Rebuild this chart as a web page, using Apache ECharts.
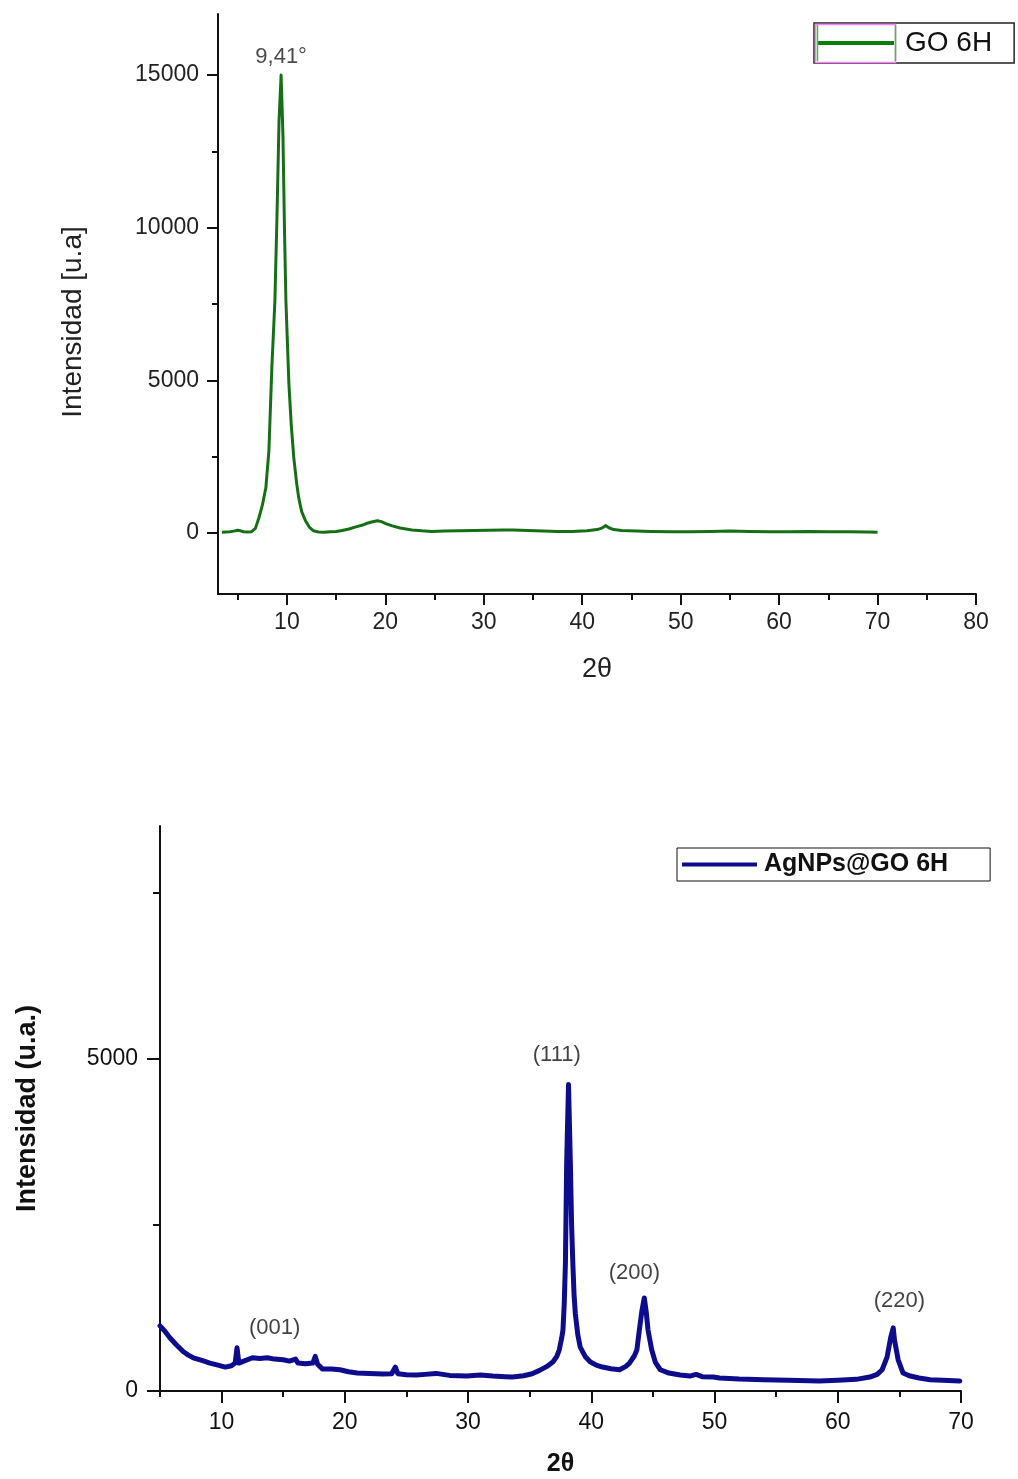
<!DOCTYPE html>
<html>
<head>
<meta charset="utf-8">
<script src="https://cdn.jsdelivr.net/npm/echarts@6/dist/echarts.min.js"></script>
<style>
html,body{margin:0;padding:0;background:#fff;}
#chart{width:1018px;height:1479px;}
</style>
</head>
<body>
<div id="chart"></div>
<script>
// ---------- GO 6H (top) ----------
const goTheta = [3.4,3.8,4.2,4.6,5.0,5.3,5.6,6.0,6.4,6.8,7.15,7.5,7.86,8.17,8.47,8.78,9.0,9.2,9.41,9.6,9.75,9.9,10.2,10.45,10.7,11.0,11.2,11.5,11.9,12.3,12.7,13.2,13.8,14.4,15.0,15.6,16.3,17.0,17.6,18.0,18.6,19.2,19.6,20.1,20.7,21.5,22.7,23.7,24.7,26,27.5,29,30.5,32,33,34.5,36,37.5,39,40.5,41.5,42.0,42.4,42.7,43.2,44,45.5,47,49,51,53,55,57,59,61,63,65,67,69,70];
const goIntensity = [20,30,40,60,90,70,40,30,40,150,490,900,1480,2690,5420,7600,10500,13500,15000,13000,10000,7600,4890,3500,2460,1600,1150,700,390,180,70,30,20,40,50,80,130,200,250,300,360,400,370,300,230,160,100,70,50,60,70,80,90,100,100,80,60,50,50,70,110,160,240,170,110,80,60,50,40,40,50,60,50,40,40,50,40,40,30,20];
const goXLabels = [10,20,30,40,50,60,70,80];
const goXMinor = [5,15,25,35,45,55,65,75];
const goYLabels = [0,5000,10000,15000];
const goYMinor = [2500,7500,12500];
const goPeakLabel = {text:'9,41°', x:9.41, y:15600};

// ---------- AgNPs@GO 6H (bottom) ----------
const agTheta = [5.0,5.4,5.8,6.3,6.9,7.3,7.7,8.4,9.05,9.7,10.3,10.8,11.1,11.25,11.4,11.8,12.5,13.1,13.7,14.3,15.0,15.5,16.0,16.2,16.8,17.4,17.6,17.8,18.2,18.9,19.6,20.3,21.0,22.0,23.1,23.8,24.1,24.3,25.0,25.8,26.5,27.4,28.5,29.9,31.0,32.0,33.0,33.6,34.5,35.2,35.8,36.4,36.9,37.2,37.4,37.6,37.7,37.8,37.9,38.0,38.15,38.3,38.4,38.5,38.6,38.7,38.9,39.1,39.5,39.9,40.4,40.9,41.6,42.3,42.8,43.1,43.5,43.7,43.9,44.1,44.3,44.45,44.6,44.9,45.2,45.6,46.3,47.2,48.0,48.5,49.0,49.9,50.4,52,54,56,58.5,60,61.5,62.6,63.2,63.6,64.0,64.3,64.5,64.6,64.9,65.3,65.8,66.6,67.5,68.5,69.9];
const agIntensity = [980,900,800,700,590,540,500,460,420,390,360,380,420,650,420,450,500,490,500,480,470,450,480,420,410,420,520,400,330,330,320,290,270,265,255,260,360,260,245,240,250,265,235,225,240,225,215,210,230,260,310,370,440,520,620,800,920,1300,1930,3430,4610,3430,2500,1930,1450,1170,850,660,520,440,390,360,335,320,370,420,530,620,920,1200,1400,1200,920,620,430,320,270,240,225,250,215,210,195,180,170,160,150,160,175,210,250,320,510,810,950,770,470,270,230,195,170,160,150];
const agXLabels = [10,20,30,40,50,60,70];
const agXMinor = [5,15,25,35,45,55,65];
const agYLabels = [0,5000];
const agYMinor = [2500,7500];
const agPeakText = ['(001)','(111)','(200)','(220)'];
const agPeakX = [14.3,37.2,43.5,65.0];
const agPeakY = [950,5060,1780,1350];

const FONT = "'Liberation Sans', Arial, Helvetica, sans-serif";
const pair = (xs, ys) => xs.map((x, i) => [x, ys[i]]);
const plain = v => String(v);

const chart = echarts.init(document.getElementById('chart'), null, {renderer:'canvas'});

function mainAxisX(o){
  return {
    type:'value', gridIndex:o.grid, min:o.min, max:o.max, position:'bottom',
    axisLine:{show:true, onZero:false, lineStyle:{color:'#111', width:2}},
    axisTick:{show:true, inside:false, length:o.tickLen, lineStyle:{color:'#111', width:2}, customValues:o.labels},
    axisLabel:{show:true, customValues:o.labels, formatter:plain, color:o.color, fontSize:o.fontSize, fontFamily:FONT, margin:o.margin},
    splitLine:{show:false},
    name:o.name, nameLocation:'middle', nameGap:o.nameGap,
    nameTextStyle:{fontSize:o.nameFont, fontFamily:FONT, color:o.color, fontWeight:o.bold ? 'bold' : 'normal'}
  };
}
function minorAxisX(grid, min, max, ticks, tickLen){
  return {
    type:'value', gridIndex:grid, min:min, max:max, position:'bottom', offset:0,
    axisLine:{show:false, onZero:false},
    axisTick:{show:true, length:tickLen, lineStyle:{color:'#111', width:2}, customValues:ticks},
    axisLabel:{show:false}, splitLine:{show:false}
  };
}
function mainAxisY(o){
  return {
    type:'value', gridIndex:o.grid, min:o.min, max:o.max, position:'left',
    axisLine:{show:true, onZero:false, lineStyle:{color:'#111', width:2}},
    axisTick:{show:true, inside:false, length:o.tickLen, lineStyle:{color:'#111', width:2}, customValues:o.labels},
    axisLabel:{show:true, customValues:o.labels, formatter:plain, color:o.color, fontSize:o.fontSize, fontFamily:FONT, margin:o.margin},
    splitLine:{show:false},
    name:o.name, nameLocation:'middle', nameGap:o.nameGap,
    nameTextStyle:{fontSize:o.nameFont, fontFamily:FONT, color:o.color, fontWeight:o.bold ? 'bold' : 'normal', padding:o.namePad || 0}
  };
}
function minorAxisY(grid, min, max, ticks, tickLen){
  return {
    type:'value', gridIndex:grid, min:min, max:max, position:'left', offset:0,
    axisLine:{show:false, onZero:false},
    axisTick:{show:true, length:tickLen, lineStyle:{color:'#111', width:2}, customValues:ticks},
    axisLabel:{show:false}, splitLine:{show:false}
  };
}

const option = {
  backgroundColor:'#ffffff',
  animation:false,
  grid:[
    {left:218, top:14, width:758, height:580, containLabel:false},
    {left:160, top:826, width:801, height:565, containLabel:false}
  ],
  xAxis:[
    mainAxisX({grid:0, min:3, max:80, labels:goXLabels, color:'#222', fontSize:23, margin:17, tickLen:11, name:'2θ', nameGap:62, nameFont:27}),
    minorAxisX(0, 3, 80, goXMinor, 6),
    mainAxisX({grid:1, min:5, max:70, labels:agXLabels, color:'#111', fontSize:23, margin:20, tickLen:12, name:'2θ', nameGap:61, nameFont:25, bold:true}),
    minorAxisX(1, 5, 70, agXMinor, 6)
  ],
  yAxis:[
    mainAxisY({grid:0, min:-2000, max:17000, labels:goYLabels, color:'#222', fontSize:23, margin:19, tickLen:11, name:'Intensidad [u.a]', nameGap:131, nameFont:28, namePad:[0,36,0,0]}),
    minorAxisY(0, -2000, 17000, goYMinor, 6),
    mainAxisY({grid:1, min:0, max:8500, labels:agYLabels, color:'#111', fontSize:23, margin:22, tickLen:13, name:'Intensidad (u.a.)', nameGap:119, nameFont:27, bold:true}),
    minorAxisY(1, 0, 8500, agYMinor, 7)
  ],
  legend:[
    {
      data:[{name:'GO 6H', icon:'rect', itemStyle:{color:'#0a800a'}}], left:814, top:23, orient:'horizontal',
      backgroundColor:'#fff', borderColor:'#222', borderWidth:1.5,
      padding:[5, 22, 5, 3], itemWidth:77, itemHeight:4, itemGap:0,
      textStyle:{fontSize:28, fontFamily:FONT, color:'#111', lineHeight:30, padding:[0,0,0,6]}
    },
    {
      data:[{name:'AgNPs@GO 6H', icon:'rect', itemStyle:{color:'#0c0c8c'}}], left:677, top:848, orient:'horizontal',
      backgroundColor:'#fff', borderColor:'#111', borderWidth:1,
      padding:[4, 42, 4, 5], itemWidth:75, itemHeight:4, itemGap:0,
      textStyle:{fontSize:25, fontWeight:'bold', fontFamily:FONT, color:'#111', lineHeight:25, padding:[0,0,0,2]}
    }
  ],
  graphic:[
    {type:'rect', z:100, silent:true, shape:{x:815.5, y:24.5, width:80, height:38}, style:{fill:null, stroke:'#ff80ff', lineWidth:1.5}},
    {type:'line', z:101, silent:true, shape:{x1:817.5, y1:25, x2:817.5, y2:61}, style:{stroke:'#33cc33', lineWidth:1.5}},
    {type:'line', z:101, silent:true, shape:{x1:895.5, y1:25, x2:895.5, y2:61}, style:{stroke:'#33cc33', lineWidth:1.5}}
  ],
  series:[
    {
      name:'GO 6H', type:'line', xAxisIndex:0, yAxisIndex:0,
      data:pair(goTheta, goIntensity), symbol:'none', smooth:false,
      lineStyle:{color:'#157015', width:3, join:'round'}, itemStyle:{color:'#0a800a'}
    },
    {
      name:'GO peak', type:'scatter', xAxisIndex:0, yAxisIndex:0,
      data:[[goPeakLabel.x, goPeakLabel.y]], symbolSize:1, itemStyle:{color:'rgba(0,0,0,0)'},
      label:{show:true, position:'inside', formatter:goPeakLabel.text, fontSize:22, fontFamily:FONT, color:'#1a1a1a'},
      silent:true
    },
    {
      name:'AgNPs@GO 6H', type:'line', xAxisIndex:2, yAxisIndex:2,
      data:pair(agTheta, agIntensity), symbol:'none', smooth:false,
      lineStyle:{color:'#0c0c8c', width:5, join:'round', cap:'round'}, itemStyle:{color:'#0c0c8c'}
    },
    {
      name:'Ag peaks', type:'scatter', xAxisIndex:2, yAxisIndex:2,
      data:agPeakX.map((x,i)=>({value:[x, agPeakY[i]], name:agPeakText[i]})),
      symbolSize:1, itemStyle:{color:'rgba(0,0,0,0)'},
      label:{show:true, position:'inside', formatter:p=>p.name, fontSize:22, fontFamily:FONT, color:'#111'},
      silent:true
    }
  ]
};
chart.setOption(option);
</script>
</body>
</html>
